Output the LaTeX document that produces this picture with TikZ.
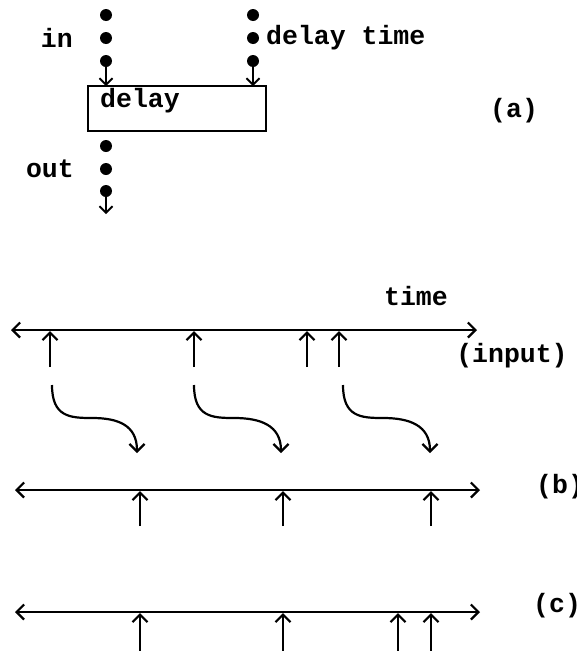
\documentclass[tikz,border=0pt]{standalone}
\usepackage{fontspec}
\setmonofont{Liberation Mono}
\usetikzlibrary{arrows.meta,calc}
\tikzset{
  lbl/.style={font=\ttfamily\bfseries\fontsize{26.5}{30}\selectfont, inner sep=0pt},
  dotc/.style={circle, fill=black, minimum size=12pt, inner sep=0pt},
  wire/.style={line width=1.8pt, -{Straight Barb[length=6.5pt,width=13pt,line width=1.8pt]}},
  axis/.style={line width=2.2pt, {Straight Barb[length=7.5pt,width=15pt,line width=2.2pt]}-{Straight Barb[length=7.5pt,width=15pt,line width=2.2pt]}},
  tick/.style={line width=2.2pt, -{Straight Barb[length=7.5pt,width=15pt,line width=2.2pt]}},
  squig/.style={line width=2.2pt, -{Straight Barb[length=7.5pt,width=15pt,line width=2.2pt]}},
  boxd/.style={draw, line width=1.8pt, minimum width=178pt, minimum height=45pt, inner sep=0pt}
}
\begin{document}
\begin{tikzpicture}[x=1pt,y=-1pt]
\useasboundingbox (0,0) rectangle (577,651);
% (a) delay unit
\node[boxd] (box) at (177,108.5) {};
\node[lbl, anchor=west] (tdelay) at (100,101) {delay};
\node[dotc] (i1) at (106,15) {};
\node[dotc] (i2) at (106,38) {};
\node[dotc] (i3) at (106,61) {};
\node[dotc] (d1) at (253,15) {};
\node[dotc] (d2) at (253,38) {};
\node[dotc] (d3) at (253,61) {};
\node[dotc] (o1) at (106,146) {};
\node[dotc] (o2) at (106,169) {};
\node[dotc] (o3) at (106,191) {};
\coordinate (boxin) at (106,86);
\coordinate (boxdt) at (253,86);
\coordinate (outend) at (106,214);
\draw[wire] (i3.center) -- (boxin);
\draw[wire] (d3.center) -- (boxdt);
\draw[wire] (o3.center) -- (outend);
\node[lbl, anchor=east] (lin) at (73,38) {in};
\node[lbl, anchor=east] (lout) at (74,169) {out};
\node[lbl, anchor=west] (ldt) at (266,38) {delay time};
\node[lbl, anchor=west] (la) at (490,111) {(a)};
% timelines
\node[lbl] (ltime) at (416,296) {time};
\node[lbl] (linput) at (512,356) {(input)};
\node[lbl, anchor=west] (lb) at (536,487) {(b)};
\node[lbl, anchor=west] (lc) at (533,606) {(c)};
\coordinate (L1a) at (11,330); \coordinate (L1b) at (477,330);
\coordinate (L2a) at (15,490); \coordinate (L2b) at (480,490);
\coordinate (L3a) at (15,612); \coordinate (L3b) at (480,612);
\draw[axis] (L1a) -- (L1b);
\draw[axis] (L2a) -- (L2b);
\draw[axis] (L3a) -- (L3b);
% input ticks
\foreach \x [count=\i] in {50,194,307,339}{
  \coordinate (ta\i) at (\x,367);
  \coordinate (tta\i) at (\x,331);
  \draw[tick] (ta\i) -- (tta\i);
}
\foreach \x [count=\i] in {140,283,431}{
  \coordinate (tb\i) at (\x,526);
  \coordinate (ttb\i) at (\x,491);
  \draw[tick] (tb\i) -- (ttb\i);
}
\foreach \x [count=\i] in {140,283,398,431}{
  \coordinate (tc\i) at (\x,651);
  \coordinate (ttc\i) at (\x,613);
  \draw[tick] (tc\i) -- (ttc\i);
}
% squiggles
\foreach \sx/\ex [count=\i] in {52/137,194/281,343/430}{
  \coordinate (s\i) at (\sx,385);
  \coordinate (e\i) at (\ex,453);
  \draw[squig] (s\i) .. controls +(0,32) and +(-22,0) .. ($(s\i)+(40,33)$)
     .. controls +(26,0) and +(0,-28) .. (e\i);
}
\end{tikzpicture}
\end{document}
